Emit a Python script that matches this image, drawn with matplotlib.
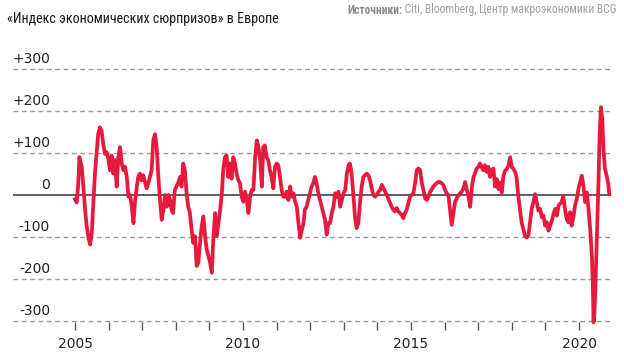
import numpy as np
import matplotlib
matplotlib.use("Agg")
import matplotlib.pyplot as plt
import matplotlib.transforms as mtransforms


# decimal year, index value
years = [
    2005.00, 2005.05, 2005.10, 2005.13, 2005.20, 2005.25, 2005.30, 2005.35, 2005.40, 2005.45,
    2005.50, 2005.55, 2005.60, 2005.64, 2005.69, 2005.74, 2005.79, 2005.84, 2005.89, 2005.94,
    2005.99, 2006.04, 2006.09, 2006.14, 2006.19, 2006.24, 2006.29, 2006.34, 2006.39, 2006.44,
    2006.49, 2006.54, 2006.59, 2006.64, 2006.69, 2006.74, 2006.79, 2006.84, 2006.88, 2006.93,
    2006.98, 2007.03, 2007.08, 2007.13, 2007.18, 2007.23, 2007.28, 2007.33, 2007.38, 2007.43,
    2007.48, 2007.53, 2007.58, 2007.63, 2007.68, 2007.73, 2007.78, 2007.83, 2007.87, 2007.92,
    2007.97, 2008.08, 2008.13, 2008.17, 2008.22, 2008.27, 2008.32, 2008.37, 2008.42, 2008.47,
    2008.52, 2008.57, 2008.62, 2008.67, 2008.72, 2008.77, 2008.82, 2008.87, 2008.92, 2008.97,
    2009.02, 2009.07, 2009.12, 2009.17, 2009.22, 2009.27, 2009.32, 2009.37, 2009.41, 2009.46,
    2009.51, 2009.56, 2009.61, 2009.66, 2009.71, 2009.76, 2009.81, 2009.86, 2009.91, 2009.96,
    2010.01, 2010.06, 2010.11, 2010.16, 2010.21, 2010.26, 2010.31, 2010.36, 2010.41, 2010.46,
    2010.51, 2010.56, 2010.60, 2010.65, 2010.70, 2010.75, 2010.80, 2010.85, 2010.90, 2010.95,
    2011.00, 2011.05, 2011.10, 2011.15, 2011.20, 2011.25, 2011.30, 2011.35, 2011.40, 2011.45,
    2011.50, 2011.55, 2011.60, 2011.65, 2011.70, 2011.75, 2011.80, 2011.84, 2011.89, 2011.94,
    2011.99, 2012.04, 2012.09, 2012.14, 2012.19, 2012.24, 2012.29, 2012.34, 2012.39, 2012.44,
    2012.49, 2012.54, 2012.59, 2012.64, 2012.69, 2012.74, 2012.79, 2012.84, 2012.89, 2012.94,
    2012.99, 2013.04, 2013.09, 2013.14, 2013.18, 2013.23, 2013.28, 2013.33, 2013.38, 2013.43,
    2013.48, 2013.53, 2013.58, 2013.63, 2013.68, 2013.73, 2013.78, 2013.83, 2013.88, 2013.93,
    2013.98, 2014.03, 2014.08, 2014.13, 2014.18, 2014.23, 2014.28, 2014.38, 2014.42, 2014.47,
    2014.52, 2014.57, 2014.62, 2014.67, 2014.72, 2014.77, 2014.82, 2014.87, 2014.92, 2014.97,
    2015.02, 2015.07, 2015.12, 2015.17, 2015.22, 2015.27, 2015.32, 2015.37, 2015.42, 2015.47,
    2015.52, 2015.57, 2015.61, 2015.66, 2015.71, 2015.76, 2015.81, 2015.86, 2015.91, 2015.96,
    2016.01, 2016.06, 2016.11, 2016.16, 2016.21, 2016.26, 2016.31, 2016.36, 2016.41, 2016.46,
    2016.51, 2016.56, 2016.61, 2016.66, 2016.71, 2016.76, 2016.81, 2016.86, 2016.90, 2016.95,
    2017.00, 2017.05, 2017.10, 2017.15, 2017.20, 2017.25, 2017.30, 2017.35, 2017.40, 2017.45,
    2017.50, 2017.55, 2017.60, 2017.65, 2017.70, 2017.75, 2017.80, 2017.85, 2017.90, 2017.95,
    2018.00, 2018.05, 2018.10, 2018.14, 2018.19, 2018.24, 2018.29, 2018.34, 2018.39, 2018.44,
    2018.49, 2018.54, 2018.59, 2018.64, 2018.69, 2018.74, 2018.79, 2018.84, 2018.89, 2018.94,
    2018.99, 2019.04, 2019.09, 2019.14, 2019.19, 2019.24, 2019.29, 2019.34, 2019.39, 2019.43,
    2019.48, 2019.53, 2019.58, 2019.63, 2019.68, 2019.73, 2019.78, 2019.83, 2019.88, 2019.93,
    2019.98, 2020.03, 2020.08, 2020.13, 2020.18, 2020.23, 2020.28, 2020.33, 2020.38, 2020.41,
    2020.43, 2020.46, 2020.49, 2020.53, 2020.58, 2020.61, 2020.65, 2020.69, 2020.72, 2020.77,
    2020.82, 2020.87, 2020.90,
]
surprise = [
    -10, -18, 30, 90, 67, 20, -35, -75, -102, -118,
    -90, -12, 59, 98, 145, 161, 153, 122, 98, 102,
    87, 59, 94, 51, 83, 20, 90, 114, 75, 59,
    67, 43, -4, 0, -28, -67, -12, 20, 43, 51,
    35, 47, 31, 16, 28, 43, 59, 130, 145, 114,
    43, -12, -59, -35, 0, -28, 0, -12, -35, -43,
    12, 31, 43, 20, 75, 59, 4, -28, -43, -83,
    -114, -98, -169, -161, -114, -75, -51, -98, -130, -146,
    -161, -185, -98, -43, -98, -67, -35, 4, 59, 90,
    94, 43, 75, 39, 90, 75, 51, 35, 28, -4,
    -16, 8, -12, -43, -4, 12, 12, 90, 130, 114,
    83, 20, 114, 118, 90, 83, 59, 43, 16, 67,
    75, 71, 43, 12, -4, -4, 8, -12, 20, -4,
    4, -16, -28, -67, -102, -83, -67, -35, -28, -12,
    4, 20, 28, 43, 28, 4, -12, -28, -43, -59,
    -94, -67, -67, -43, -28, 4, -4, 8, -28, -12,
    4, 12, 51, 71, 75, 51, 4, -51, -79, -67,
    -20, 20, 43, 47, 51, 47, 35, 16, 0, -4,
    0, 8, 12, 24, 16, 8, 0, -20, -28, -35,
    -39, -31, -39, -43, -47, -55, -43, -35, -20, -4,
    0, 4, 28, 59, 63, 59, 28, 12, -8, -12,
    -4, 8, 12, 20, 24, 28, 31, 31, 28, 24,
    12, 4, 0, -35, -71, -43, -16, -8, 0, 4,
    8, 16, 31, 12, -4, -28, 20, 43, 51, 63,
    67, 75, 67, 59, 71, 55, 67, 43, 59, 63,
    20, 38, 14, 30, 6, 46, 58, 62, 70, 90,
    66, 62, 54, 42, -2, -33, -65, -81, -97, -101,
    -97, -65, -33, -17, 2, -17, -37, -33, -53, -49,
    -73, -65, -85, -73, -61, -45, -33, -49, -25, -21,
    -17, -2, -33, -57, -65, -41, -73, -53, -25, -10,
    14, 30, 46, 22, -17, 6, -33, -81, -144, -216,
    -303, -279, -208, -97, 38, 141, 209, 181, 117, 62,
    46, 26, 2,
]

grid_values = [-300, -200, -100, 100, 200, 300]
y_labels = {300: "+300", 200: "+200", 100: "+100", 0: "0",
            -100: "-100", -200: "-200", -300: "-300"}
tick_years = list(range(2005, 2021))
label_years = [2005, 2010, 2015, 2020]

title = "«Индекс экономических сюрпризов» в Европе"
source_bold = "Источники:"
source_rest = " Citi, Bloomberg, Центр макроэкономики BCG"

narrow = ["Roboto Condensed", "Liberation Sans Narrow", "Open Sans Condensed",
          "DejaVu Sans Condensed", "DejaVu Sans"]

red = "#e61a3d"
text_col = "#222222"

fig = plt.figure(figsize=(6.24, 3.63), dpi=100)
ax = fig.add_axes([13 / 624, 1 - 330 / 363, 597 / 624, 275 / 363])

ax.set_xlim(2003.155, 2020.92)
ax.set_ylim(-321.4, 333.3)

for v in grid_values:
    ax.axhline(v, color="#9a9a9a", lw=1, linestyle=(0, (3.5, 2.5)), zorder=1)
ax.axhline(0, color="#444444", lw=1.2, zorder=2)

ax.plot(years, surprise, color=red, lw=2.7, solid_joinstyle="round", zorder=3, clip_on=False)

for spine in ax.spines.values():
    spine.set_visible(False)

ax.set_yticks([])
ax.set_xticks(tick_years)
ax.set_xticklabels([str(y) if y in label_years else "" for y in tick_years])
ax.tick_params(axis="x", direction="in", length=5.5, width=1, color="#555555",
               labelsize=10, labelcolor=text_col, pad=5)

trans = mtransforms.blended_transform_factory(ax.transAxes, ax.transData)
for v, lab in y_labels.items():
    ax.text(0.062, v + 6, lab, transform=trans, ha="right", va="bottom",
            fontsize=10, color=text_col)

t_title = fig.text(7 / 624, 1 - 19 / 363, title, ha="left", va="center", fontsize=12.5,
                   color="#1a1a1a", family=narrow, stretch="condensed")

t1 = fig.text(347 / 624, 1 - 10 / 363, source_bold, ha="left", va="center",
              fontsize=6, fontweight="bold", color="#8a8a8a", family=narrow,
              stretch="condensed")
t2 = ax.annotate(source_rest, xy=(1, 0), xycoords=t1, ha="left", va="bottom",
                 fontsize=6, color="#a0a0a0", family=narrow, stretch="condensed",
                 annotation_clip=False)

# fit the texts to the widths they have in the picture
# (title a bit wider than the original, our narrow font is not as narrow)
fig.canvas.draw()
r = fig.canvas.get_renderer()
w = t_title.get_window_extent(r).width
t_title.set_fontsize(12.5 * 272 / w)
w_src = t2.get_window_extent(r).x1 - t1.get_window_extent(r).x0
fs = 6 * 270 / w_src
t1.set_fontsize(fs)
t2.set_fontsize(fs)

fig.savefig("out.png", dpi=100)
